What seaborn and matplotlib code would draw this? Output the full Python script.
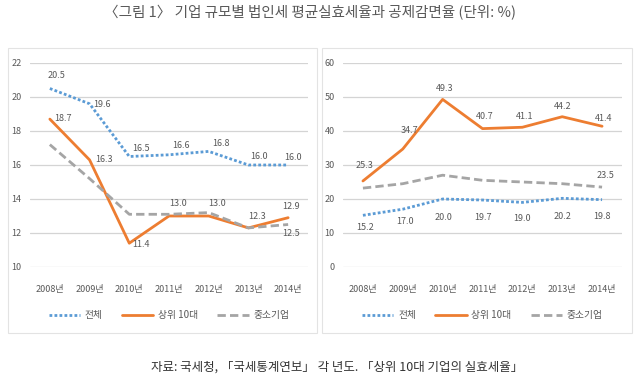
import pandas as pd
import matplotlib.pyplot as plt
import seaborn as sns
from matplotlib.patches import Rectangle

# 데이터
years = ['2008년', '2009년', '2010년', '2011년', '2012년', '2013년', '2014년']
series_names = ['전체', '상위 10대', '중소기업']

# 평균실효세율 (왼쪽)
rate_total = [20.5, 19.6, 16.5, 16.6, 16.8, 16.0, 16.0]
rate_top10 = [18.7, 16.3, 11.4, 13.0, 13.0, 12.3, 12.9]
rate_sme = [17.2, 15.2, 13.1, 13.1, 13.2, 12.3, 12.5]

# 공제감면율 (오른쪽)
ded_total = [15.2, 17.0, 20.0, 19.7, 19.0, 20.2, 19.8]
ded_top10 = [25.3, 34.7, 49.3, 40.7, 41.1, 44.2, 41.4]
ded_sme = [23.2, 24.5, 27.0, 25.5, 25.0, 24.5, 23.5]

left_ticks = [10, 12, 14, 16, 18, 20, 22]
right_ticks = [0, 10, 20, 30, 40, 50, 60]

title = '〈그림 1〉 기업 규모별 법인세 평균실효세율과 공제감면율 (단위: %)'
source = '자료: 국세청, 「국세통계연보」 각 년도. 「상위 10대 기업의 실효세율」'

sns.set_theme(style='white')
plt.rcParams['font.family'] = ['Noto Sans CJK KR', 'DejaVu Sans']

TXT = '#595959'
styles = {
    '전체': dict(color='#5B9BD5', linestyle=(0, (1, 0.8)), linewidth=2.0),
    '상위 10대': dict(color='#ED7D31', linestyle='-', linewidth=2.0),
    '중소기업': dict(color='#A5A5A5', linestyle=(0, (3, 1.5)), linewidth=2.0),
}

W, H = 640, 385
fig = plt.figure(figsize=(W / 100, H / 100), dpi=100)
fig.patch.set_facecolor('white')


def fx(px):
    return px / W


def fy(py):
    return 1 - py / H


def draw_panel(x0, x1, ylim, ticks, data, labels):
    ax = fig.add_axes([fx(x0), fy(267), fx(x1 - x0), fy(63) - fy(267)])
    df = pd.DataFrame({'연도': years * 3,
                       '값': sum(data, []),
                       '구분': sum([[n] * len(years) for n in series_names], [])})
    for name in series_names:
        sub = df[df['구분'] == name]
        sns.lineplot(data=sub, x='연도', y='값', ax=ax, sort=False,
                     label=name, zorder=3, **styles[name])
    ax.set_xlim(-0.5, len(years) - 0.5)
    ax.set_ylim(ylim)
    ax.set_yticks(ticks)
    ax.set_yticklabels([str(t) for t in ticks])
    ax.set_xlabel('')
    ax.set_ylabel('')
    for s in ax.spines.values():
        s.set_visible(False)
    # 가로 눈금선
    for t in ticks:
        ax.axhline(t, color='#D4D4D4', linewidth=0.9, zorder=1)
    ax.tick_params(axis='y', length=0, pad=6, labelsize=6.5, labelcolor=TXT)
    ax.tick_params(axis='x', length=0, pad=13, labelsize=6.5, labelcolor=TXT)
    # 데이터 레이블
    for name, vals in zip(series_names, data):
        for i, v in enumerate(vals):
            off = labels[name][i]
            if off is None:
                continue
            ax.annotate(f'{v:.1f}', (i, v), xytext=off, textcoords='offset pixels',
                        ha='center', va='center', fontsize=6.5, color=TXT)
    ax.get_legend().remove()
    ax.legend(loc='upper center', bbox_to_anchor=(0.5, -0.17), ncol=3,
              frameon=False, fontsize=7, labelcolor=TXT, handlelength=3.2,
              columnspacing=2.0, handletextpad=0.5)
    return ax


left_labels = {
    '전체': [(7, 13), (12, -1), (12, 8), (12, 9), (12, 8), (11, 8), (5, 7)],
    '상위 10대': [(13, 1), (14, 0), (12, -1), (9, 12), (8, 12), (9, 11), (3, 11)],
    '중소기업': [None, None, None, None, None, None, (3, -9)],
}
right_labels = {
    '전체': [(2, -12), (2, -12), (1, -18), (0, -17), (0, -16), (0, -18), (0, -17)],
    '상위 10대': [(2, 15), (7, 19), (2, 11), (2, 12), (2, 11), (0, 10), (2, 8)],
    '중소기업': [None, None, None, None, None, None, (3, 12)],
}

draw_panel(30, 308, (10, 22), left_ticks, [rate_total, rate_top10, rate_sme], left_labels)
draw_panel(343, 622, (0, 60), right_ticks, [ded_total, ded_top10, ded_sme], right_labels)

# 패널 테두리
for bx0, bx1 in [(8, 317), (322, 632)]:
    fig.patches.append(Rectangle((fx(bx0), fy(333)), fx(bx1 - bx0), fy(48) - fy(333),
                                 transform=fig.transFigure, fill=False,
                                 edgecolor='#E3E3E3', linewidth=0.8))

fig.text(fx(310), fy(13), title, ha='center', va='center', fontsize=10.5, color=TXT)
fig.text(fx(337), fy(367), source, ha='center', va='center', fontsize=9, color='#333333')

fig.savefig('out.png', dpi=100)
